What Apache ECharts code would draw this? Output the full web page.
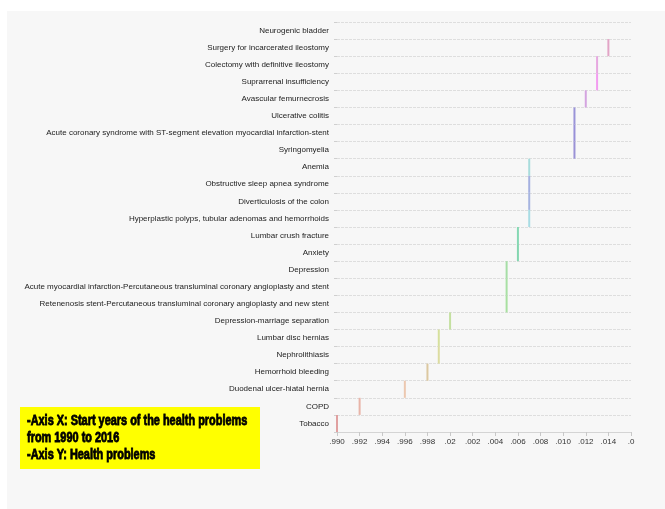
<!DOCTYPE html>
<html>
<head>
<meta charset="utf-8">
<script src="https://cdn.jsdelivr.net/npm/echarts@6/dist/echarts.min.js"></script>
<style>
  html, body { margin: 0; padding: 0; background: #ffffff; }
  #chart { width: 665px; height: 509px; }
</style>
</head>
<body>
<div id="chart"></div>
<script>
// Health problems, listed from top to bottom
const problems = [
  'Neurogenic bladder',
  'Surgery for incarcerated ileostomy',
  'Colectomy with definitive ileostomy',
  'Suprarrenal insufficiency',
  'Avascular femurnecrosis',
  'Ulcerative colitis',
  'Acute coronary syndrome with ST-segment elevation myocardial infarction-stent',
  'Syringomyelia',
  'Anemia',
  'Obstructive sleep apnea syndrome',
  'Diverticulosis of the colon',
  'Hyperplastic polyps, tubular adenomas and hemorrhoids',
  'Lumbar crush fracture',
  'Anxiety',
  'Depression',
  'Acute myocardial infarction-Percutaneous transluminal coronary angioplasty and stent',
  'Retenenosis stent-Percutaneous transluminal coronary angioplasty and new stent',
  'Depression-marriage separation',
  'Lumbar disc hernias',
  'Nephrolithiasis',
  'Hemorrhoid bleeding',
  'Duodenal ulcer-hiatal hernia',
  'COPD',
  'Tobacco'
];

// Start year of each health problem (same order as above)
const startYears = [
  null, 2014, 2013, 2013, 2012, 2011, 2011, 2011,
  2007, 2007, 2007, 2007, 2006, 2006, 2005, 2005,
  2005, 2000, 1999, 1999, 1998, 1996, 1992, 1990
];

// Tick labels of the year axis, 1990 to 2016 every two years
const yearTicks = ['.990', '.992', '.994', '.996', '.998', '.02', '.002',
  '.004', '.006', '.008', '.010', '.012', '.014', '.0'];

// Stroke colour for each row's mark
const rowColors = [
  '#e0a0c8', '#e2a4c6', '#e6a8e0', '#f29cf0', '#d4a4e0', '#9a94d8', '#9890d8', '#9a92d6',
  '#a8dcdc', '#a4b0e0', '#a6b4e0', '#a8dce4', '#86d8b4', '#84d6b0', '#a6dea6', '#a8e0a4',
  '#a8e0a0', '#c4e0a0', '#d6e09c', '#dcdca0', '#dcc8a0', '#ecc8b0', '#e8b4a8', '#e0a0a0'
];

const chart = echarts.init(document.getElementById('chart'), null, { renderer: 'canvas' });

const lineData = [];
startYears.forEach(function (y, i) {
  if (y !== null) lineData.push([y, i]);
});

const labelFont = '"Liberation Sans", Arial, sans-serif';

const option = {
  backgroundColor: '#ffffff',
  animation: false,
  graphic: [
    {
      type: 'rect', z: -10, silent: true,
      shape: { x: 7, y: 11, width: 665, height: 509 },
      style: { fill: '#f7f7f7' }
    },
    {
      type: 'rect', z: 10,
      shape: { x: 20, y: 407, width: 240, height: 62 },
      style: { fill: '#ffff00' }
    },
    {
      type: 'text', z: 11, x: 27, y: 413, scaleX: 0.78,
      style: {
        text: '-Axis X: Start years of the health problems\nfrom 1990 to 2016\n-Axis Y: Health problems',
        font: 'bold 14px "Liberation Sans", Arial, sans-serif',
        lineHeight: 17,
        fill: '#000000',
        stroke: '#000000',
        lineWidth: 0.8
      }
    }
  ],
  grid: { left: 337, right: 34, top: 22, bottom: 77, containLabel: false, outerBoundsMode: 'none' },
  xAxis: {
    type: 'value',
    min: 1990,
    max: 2016,
    interval: 2,
    axisLine: { show: true, lineStyle: { color: '#d4d4d4' } },
    axisTick: { show: true, length: 4, lineStyle: { color: '#c8c8c8' } },
    splitLine: { show: false },
    axisLabel: {
      color: '#333333',
      fontSize: 8,
      fontFamily: labelFont,
      margin: 6,
      formatter: function (v) { return yearTicks[Math.round((v - 1990) / 2)]; }
    }
  },
  yAxis: {
    type: 'category',
    data: problems,
    inverse: true,
    axisLine: { show: false },
    axisTick: { show: true, length: 3, lineStyle: { color: '#cfcfcf' } },
    splitLine: { show: true, lineStyle: { color: '#dedede', type: [3, 1], width: 1 } },
    axisLabel: {
      color: '#222222',
      fontSize: 8,
      fontFamily: labelFont,
      margin: 8
    }
  },
  series: [{
    type: 'custom',
    data: lineData,
    encode: { x: 0, y: 1 },
    renderItem: function (params, api) {
      const p = api.coord([api.value(0), api.value(1)]);
      const band = api.size([0, 1])[1];
      return {
        type: 'line',
        shape: { x1: p[0], y1: p[1] - band / 2, x2: p[0], y2: p[1] + band / 2 },
        style: { stroke: rowColors[api.value(1)], lineWidth: 2 }
      };
    }
  }]
};

chart.setOption(option);
</script>
</body>
</html>
